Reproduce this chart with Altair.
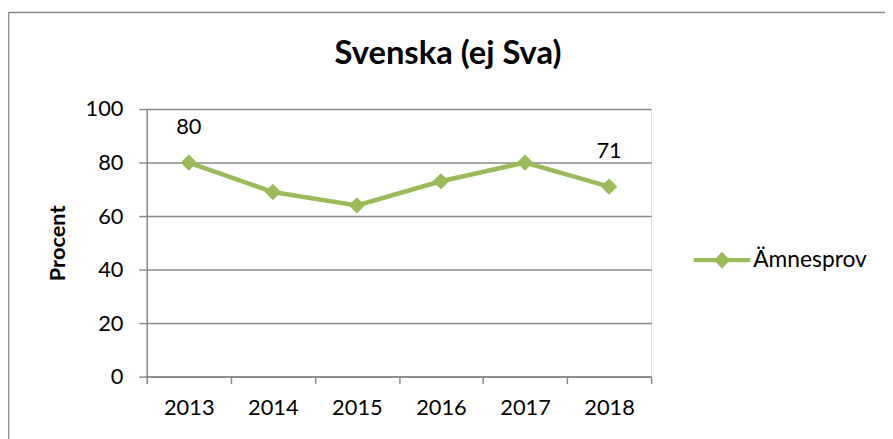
import altair as alt
import pandas as pd

years = ["2013", "2014", "2015", "2016", "2017", "2018"]
values = [80, 69, 64, 73, 80, 71]
labels = ["80", "", "", "", "", "71"]
series = "Ämnesprov"
chart_title = "Svenska (ej Sva)"

GREEN = "#9BBB59"
GRAY = "#898989"
FONT = "Lato"

df = pd.DataFrame({"year": years, "value": values, "label": labels, "serie": [series] * len(years)})

x_enc = alt.X("year:N", title=None, sort=years,
              scale=alt.Scale(paddingInner=0, paddingOuter=0),
              axis=alt.Axis(tickBand="extent", labelAngle=0, labelFont=FONT, labelFontSize=22,
                            labelColor="#000", domainColor=GRAY, domainWidth=1.5, tickColor=GRAY,
                            tickWidth=1.5, tickSize=7, labelPadding=14, grid=False))
y_enc = alt.Y("value:Q", title="Procent", scale=alt.Scale(domain=[0, 100]),
              axis=alt.Axis(values=[0, 20, 40, 60, 80, 100], labelFont=FONT, labelFontSize=22,
                            labelColor="#000", domainColor=GRAY, domainWidth=1.5, tickColor=GRAY,
                            tickWidth=1.5, tickSize=8, labelPadding=16, gridColor=GRAY,
                            gridWidth=1.5, titleFont=FONT, titleFontSize=22, titleFontWeight="bold",
                            titleColor="#000", titlePadding=16))

base = alt.Chart(df)

line = base.mark_line(color=GREEN, strokeWidth=4.5).encode(x=x_enc, y=y_enc)

legend_path = ("M-1,-0.075H1V0.075H-1Z M0,-0.3L0.28,0L0,0.3L-0.28,0Z")

points = base.mark_point(shape="diamond", filled=True, size=270, opacity=1).encode(
    x=alt.X("year:N", sort=years), y="value:Q",
    color=alt.Color("serie:N", title=None,
                    scale=alt.Scale(range=[GREEN]),
                    legend=alt.Legend(orient="none", legendX=552, legendY=124,
                                      symbolType=legend_path, symbolSize=3249,
                                      symbolStrokeWidth=0, symbolFillColor=GREEN,
                                      labelFont=FONT, labelFontSize=23, labelColor="#000",
                                      labelOffset=3)))

text = base.transform_filter(alt.datum.label != "").mark_text(
    dy=-36, font=FONT, fontSize=22, color="#000").encode(
    x=alt.X("year:N", sort=years), y="value:Q", text="label:N")

title_df = pd.DataFrame({"t": [chart_title]})
title = alt.Chart(title_df).mark_text(
    font=FONT, fontSize=33, fontWeight="bold", color="#000", align="center",
    baseline="alphabetic").encode(x=alt.value(304), y=alt.value(-45), text="t:N")

frame_df = pd.DataFrame({"k": [0]})
frame_top = alt.Chart(frame_df).mark_rule(color=GRAY, strokeWidth=1.5).encode(
    x=alt.value(-139.5), x2=alt.value(760), y=alt.value(-97.5))
frame_left = alt.Chart(frame_df).mark_rule(color=GRAY, strokeWidth=1.5).encode(
    x=alt.value(-139.5), y=alt.value(-97.5), y2=alt.value(340))

chart = alt.layer(frame_top, frame_left, line, points, text, title).properties(
    width=509, height=270,
    padding={"left": 140, "top": 100, "right": 236, "bottom": 61},
    autosize=alt.AutoSizeParams(type="none"),
).configure_view(stroke=None).configure(background="white")

chart.save("out.html", embed_options={"renderer": "svg", "actions": False})
